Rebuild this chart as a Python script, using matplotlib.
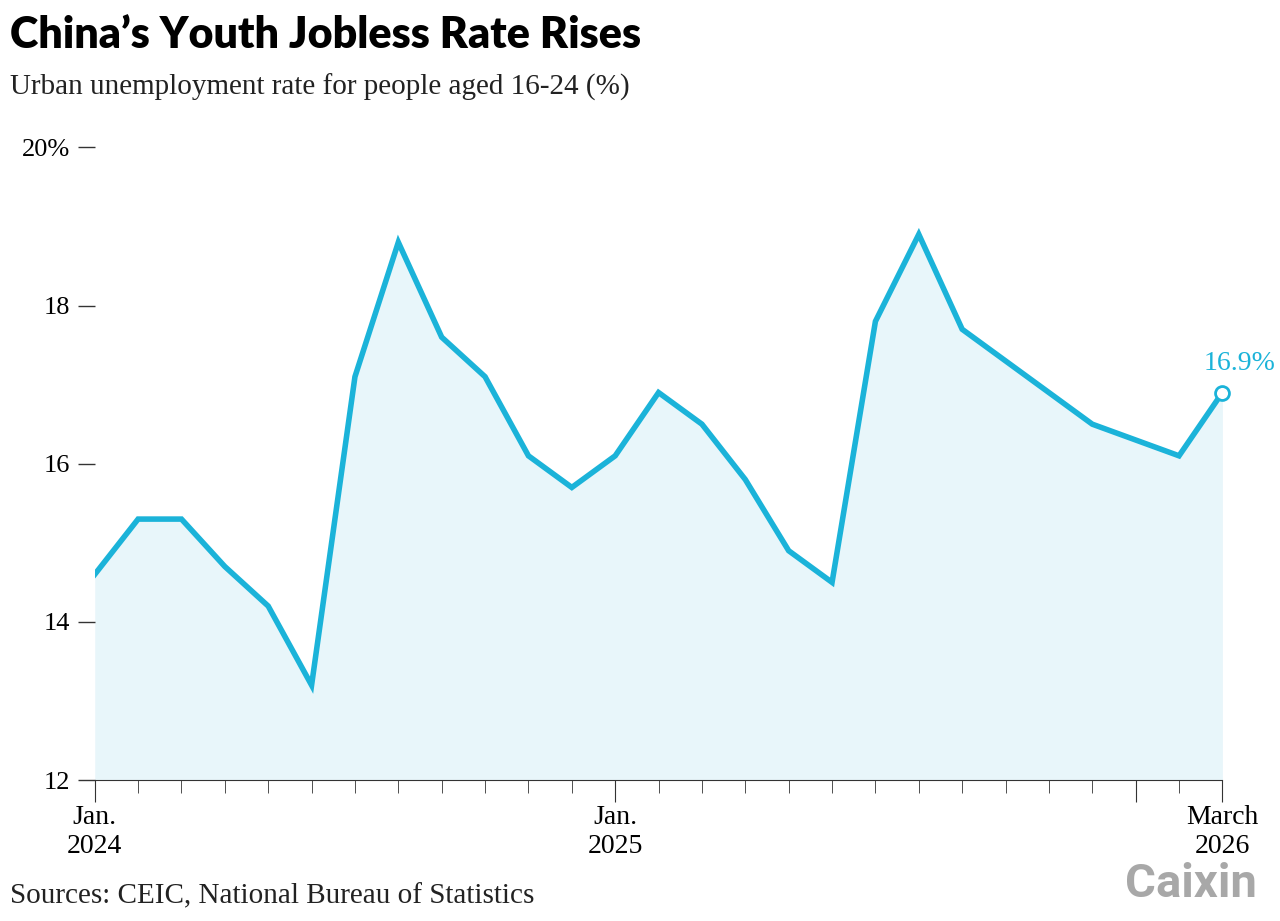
import matplotlib.pyplot as plt

MONTH_LABELS = ["Jan.\n2024", "Jan.\n2025", "March\n2026"]
MONTH_TICKS = [0, 12, 26]
RATES = [14.6, 15.3, 15.3, 14.7, 14.2, 13.2, 17.1, 18.8, 17.6, 17.1, 16.1, 15.7,
         16.1, 16.9, 16.5, 15.8, 14.9, 14.5, 17.8, 18.9, 17.7, 17.3, 16.9, 16.5,
         16.3, 16.1, 16.9]
Y_TICKS = [12, 14, 16, 18, 20]
Y_LABELS = ["12", "14", "16", "18", "20%"]

LINE_COLOR = "#1bb3d9"
FILL_COLOR = "#e8f6fa"
TEXT_COLOR = "#222222"


def plot_rates(output_path="out.png"):
    """Plot monthly youth urban unemployment rate."""
    plt.rcParams.update(
        {
            "font.family": "Liberation Serif",
            "font.size": 19,
            "text.color": TEXT_COLOR,
        }
    )

    fig = plt.figure(figsize=(12.8, 9.21), dpi=100)
    ax = fig.add_axes([0.074, 0.153, 0.881, 0.687])
    months = list(range(len(RATES)))

    ax.fill_between(months, RATES, 12, color=FILL_COLOR, linewidth=0)
    ax.plot(months, RATES, color=LINE_COLOR, linewidth=4, solid_joinstyle="miter")
    ax.plot(months[-1], RATES[-1], marker="o", markersize=10, markerfacecolor="white",
            markeredgecolor=LINE_COLOR, markeredgewidth=2, clip_on=False, zorder=5)
    ax.annotate(f"{RATES[-1]}%", (months[-1], RATES[-1]), xytext=(12, 16),
                textcoords="offset points", ha="center", color=LINE_COLOR, fontsize=20)

    ax.set_xlim(0, 26)
    ax.set_ylim(12, 20)
    for side in ["left", "right", "top"]:
        ax.spines[side].set_visible(False)
    ax.spines["bottom"].set_color("#333333")

    ax.set_yticks(Y_TICKS)
    ax.set_yticklabels(Y_LABELS)
    ax.tick_params(axis="y", length=12, width=1, color="#333333", pad=6, labelsize=19)
    ax.set_xticks(months, minor=True)
    ax.set_xticks(MONTH_TICKS + [24])
    ax.set_xticklabels(MONTH_LABELS + [""])
    ax.tick_params(axis="x", which="major", length=16, color="#333333", pad=2, labelsize=20)
    ax.tick_params(axis="x", which="minor", length=9, color="#333333")

    fig.text(0.008, 0.962, "China’s Youth Jobless Rate Rises", fontfamily="Lato",
             fontweight="heavy", fontsize=31, color="black", va="center")
    fig.text(0.008, 0.905, "Urban unemployment rate for people aged 16-24 (%)",
             fontsize=21, va="center")
    fig.text(0.008, 0.027, "Sources: CEIC, National Bureau of Statistics",
             fontsize=21, va="center")
    fig.text(0.982, 0.04, "Caixin", fontfamily="Roboto", fontweight="bold",
             fontsize=34, color="#a8a8a8", ha="right", va="center")

    fig.savefig(output_path, dpi=100)
    plt.close(fig)
    return output_path


def main():
    plot_rates()


if __name__ == "__main__":
    main()
